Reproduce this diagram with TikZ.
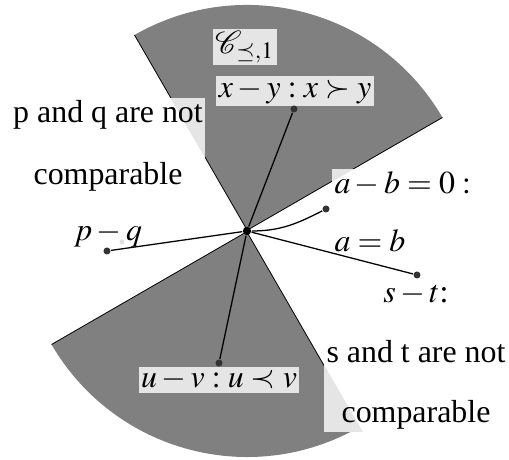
\documentclass[tikz,border=0pt]{standalone}
\usepackage{mathptmx}
\usepackage{mathrsfs}
\usepackage[no-math]{fontspec}
\setmainfont{Liberation Serif}
\pgfdeclarelayer{back}
\pgfdeclarelayer{mask}
\pgfsetlayers{back,mask,main}

\begin{document}
\begin{tikzpicture}[x=0.3135pt, y=0.3135pt,
    lbl/.style={inner sep=0.6pt, align=center},
    dot/.style={circle, fill=black!80, inner sep=0pt, minimum size=2.2pt},
    box/.style={fill=gray!20}]
  \useasboundingbox (0,0) rectangle (509,460);
  \coordinate (O) at (247,229);
  % labels
  \node[lbl] (cone) at (245,413) {$\mathscr{C}_{\preceq,1}$};
  \node[lbl] (xy) at (295,369) {$x-y:x\succ y$};
  \node[lbl, anchor=north] (pq) at (108,362) {p and q are not\\[7.4pt]comparable\\[5.6pt]$p-q$};
  \node[lbl, anchor=north west, align=left] (ab) at (332,291) {$a-b=0:$\\[6.2pt]$a=b$};
  \node[lbl, anchor=south] (st) at (416,28) {$s-t$:\\[6.8pt]s and t are not\\[6.8pt]comparable};
  \node[lbl] (uv) at (219,80) {$u-v:u\prec v$};
  % end points
  \node[dot, fill=black, minimum size=2.6pt] (hub) at (O) {};
  \node[dot] (xyend) at (294,351) {};
  \node[dot] (pqend) at (107,209) {};
  \node[dot] (abend) at (326,251) {};
  \node[dot] (stend) at (417,185) {};
  \node[dot] (uvend) at (219,97) {};
  \fill[gray!25] (122,218) circle (2.5);
  \draw (hub) -- (xyend);
  \draw (hub) -- (pqend);
  \draw (hub) to[out=0, in=207] (abend);
  \draw (hub) -- (stend);
  \draw (hub) -- (uvend);
  % cones and label boxes
  \begin{pgfonlayer}{back}
    \begin{scope}[shift={(O)}]
      \fill[gray] (0,0) -- (30:226) arc[start angle=30, end angle=120, radius=226] -- cycle;
      \fill[gray] (0,0) -- (210:226) arc[start angle=210, end angle=300, radius=226] -- cycle;
      \draw[line width=0.6pt] (30:226) -- (210:226);
      \draw[line width=0.6pt] (120:226) -- (300:226);
    \end{scope}
    \foreach \n in {cone,xy,pq,ab,st,uv}
      \fill[box] (\n.south west) rectangle (\n.north east);
  \end{pgfonlayer}
  \begin{pgfonlayer}{mask}
    \begin{scope}[shift={(O)}]
      \fill[white] (0,0) -- (-60:400) arc[start angle=-60, end angle=30, radius=400] -- cycle;
      \fill[white] (0,0) -- (120:400) arc[start angle=120, end angle=210, radius=400] -- cycle;
    \end{scope}
  \end{pgfonlayer}
\end{tikzpicture}
\end{document}
